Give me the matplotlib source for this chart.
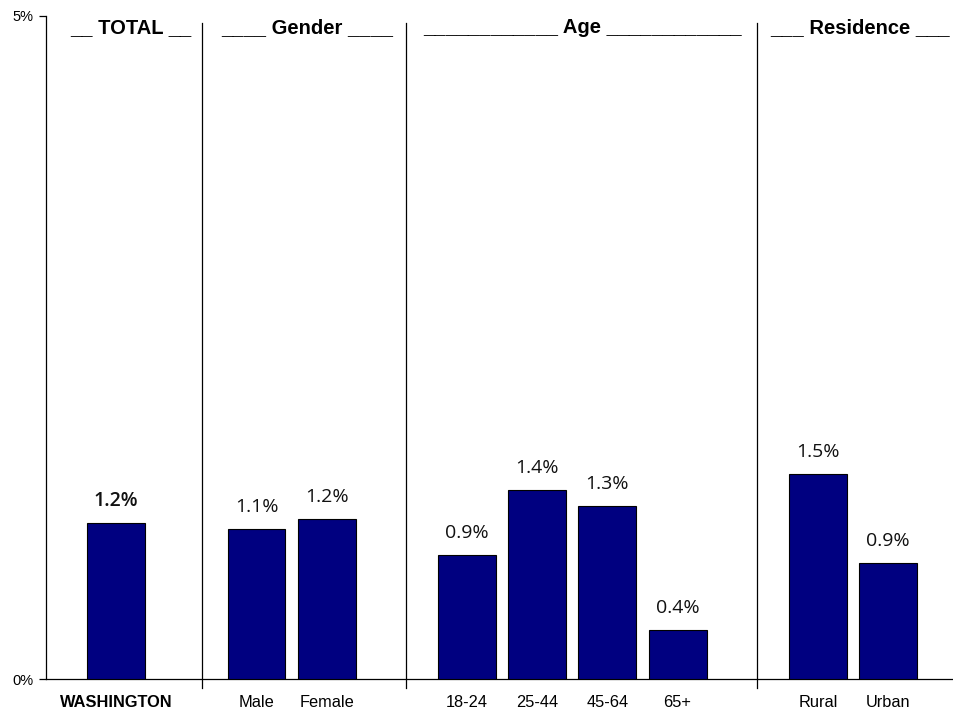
import matplotlib
matplotlib.use("Agg")
import matplotlib.pyplot as plt

categories = ["WASHINGTON", "Male", "Female", "18-24", "25-44", "45-64", "65+", "Rural", "Urban"]
values = [1.18, 1.13, 1.21, 0.94, 1.43, 1.31, 0.37, 1.55, 0.88]
value_labels = ["1.2%", "1.1%", "1.2%", "0.9%", "1.4%", "1.3%", "0.4%", "1.5%", "0.9%"]
positions = [0, 2, 3, 5, 6, 7, 8, 10, 11]
separators = [1.23, 4.13, 9.13]
headers = ["__ TOTAL __", "____ Gender ____", "____________ Age ____________", "___ Residence ___"]
header_x = [0.21, 2.72, 6.65, 10.6]
ytick_vals = [0, 5]
ytick_labels = ["0%", "5%"]

plt.rcParams['font.family'] = ['Liberation Sans', 'DejaVu Sans']

fig = plt.figure(figsize=(9.54, 7.15), dpi=100)
ax = fig.add_axes([0.0482, 0.0497, 1.0 - 0.0482, 0.9783 - 0.0497])

ax.bar(positions, values, width=0.826, color="#000080", edgecolor="black", linewidth=0.8, zorder=3)

for i, (p, v, lab) in enumerate(zip(positions, values, value_labels)):
    ax.annotate(lab, xy=(p, v), xytext=(0, 15.8), textcoords="offset points",
                ha="center", va="center", fontsize=14,
                family=["Open Sans", "DejaVu Sans"],
                fontweight="semibold" if i == 0 else "normal", color="#111111")

for s in separators:
    ax.axvline(s, ymin=-0.0128, ymax=0.989, color="black", linewidth=0.9, clip_on=False)

for hx, h in zip(header_x, headers):
    ax.text(hx, 4.906, h, ha="center", va="center", fontsize=14.5, fontweight="bold")

ax.set_xlim(-1.0, 11.94)
ax.set_ylim(0, 5)
ax.set_xticks(positions)
ax.set_xticklabels(categories, fontsize=11.8)
ax.get_xticklabels()[0].set_fontweight("bold")
ax.tick_params(axis="x", length=0, pad=11)
ax.set_yticks(ytick_vals)
ax.set_yticklabels(ytick_labels, fontsize=10.5)
ax.tick_params(axis="y", length=5, width=0.9, pad=4)

for sp in ["top", "right"]:
    ax.spines[sp].set_visible(False)
ax.spines["left"].set_linewidth(0.9)
ax.spines["bottom"].set_linewidth(0.9)

fig.savefig("out.png", dpi=100)
